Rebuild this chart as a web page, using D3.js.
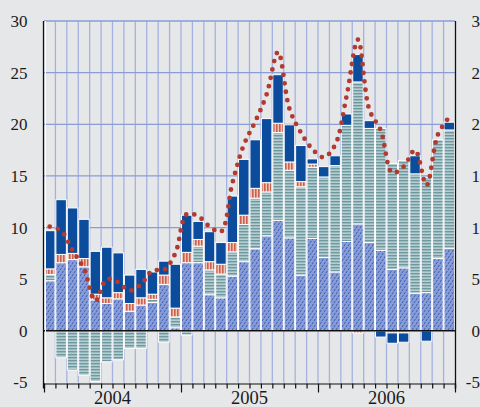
<!DOCTYPE html>
<html>
<head>
<meta charset="utf-8">
<script src="https://cdn.jsdelivr.net/npm/d3@7"></script>
<style>
  body { margin: 0; background: #e6e7e9; }
  svg { display: block; }
</style>
</head>
<body>
<div id="chart"></div>
<script>
// monthly, Jan 2004 .. Dec 2006
const months = d3.range(36);
const years = ['2004', '2005', '2006'];
const yTicks = [-5, 0, 5, 10, 15, 20, 25, 30];

// stacked components (bottom to top)
const hatched = [4.85, 6.6, 6.9, 6.2, 3.0, 2.65, 3.1, 1.9, 2.5, 2.75, 4.5, 0.3,
  6.6, 6.6, 3.5, 3.2, 5.3, 6.7, 7.95, 9.2, 10.7, 9.0, 5.4, 8.95,
  7.1, 5.7, 8.65, 10.35, 8.55, 7.8, 5.95, 6.1, 3.65, 3.7, 7.0, 8.0];
const striped = [0.6, -2.6, -3.8, -4.3, -4.9, -3.0, -2.8, -1.7, -1.7, 0.3, -1.1, 1.05,
  -0.4, 1.6, 2.4, 2.3, 2.35, 3.6, 4.9, 4.25, 8.5, 6.55, 8.55, 6.9,
  7.8, 10.3, 11.25, 13.75, 11.05, 11.8, 10.25, 10.4, 11.55, 11.15, 11.5, 11.45];
const red = [0.55, 0.8, 0.6, 0.8, 0.55, 0.55, 0.6, 0.75, 0.7, 0.5, 0.9, 0.85,
  1.0, 0.65, 0.8, 0.95, 0.9, 0.9, 0.95, 0.9, 0.9, 0.8, 0.5, 0.3,
  0, 0, 0, -0.2, 0, 0, -0.2, -0.2, 0, 0, 0, 0];
const navy = [3.7, 5.3, 4.4, 3.8, 4.15, 4.9, 3.85, 2.75, 2.75, 2.15, 1.35, 4.25,
  3.6, 1.75, 2.9, 2.1, 4.5, 5.4, 4.7, 6.2, 4.7, 3.6, 3.5, 0.5,
  1.0, 0.95, 1.1, 2.65, 0.75, -0.6, -1.0, -0.9, 1.75, -1.0, 0, 0.75];
// dotted line
const dotted = [10.1, 9.7, 7.8, 6.0, 2.9, 5.0, 4.7, 3.9, 4.5, 5.85, 5.9, 7.5,
  11.3, 11.1, 10.1, 9.6, 14.3, 18.0, 20.25, 22.9, 27.0, 21.5, 19.2, 17.6,
  16.8, 18.0, 22.7, 28.2, 21.4, 19.4, 15.3, 15.9, 17.5, 14.1, 19.0, 20.7];

const keys = ['hatched', 'striped', 'red', 'navy'];
const fills = {hatched: 'url(#p-hatch)', striped: 'url(#p-stripe)', red: 'url(#p-red)', navy: '#0b4c9c'};
const table = months.map(i => ({
  month: i, hatched: hatched[i], striped: striped[i], red: red[i], navy: navy[i]
}));

const width = 480, height = 407;
const left = 44, right = 455;

const svg = d3.select('#chart').append('svg')
    .attr('width', width)
    .attr('height', height);

svg.append('rect')
    .attr('width', width).attr('height', height)
    .attr('fill', '#e6e7e9');

const x = d3.scaleBand()
    .domain(months)
    .range([left, right])
    .paddingInner(0.08)
    .paddingOuter(0.04);
const xm = d3.scaleLinear().domain([0, 36]).range([left, right]);
const y = d3.scaleLinear().domain([-5, 30]).range([382.5, 21]);

// patterns
const defs = svg.append('defs');
const pH = defs.append('pattern').attr('id', 'p-hatch')
    .attr('patternUnits', 'userSpaceOnUse').attr('width', 4).attr('height', 6);
pH.append('rect').attr('width', 4).attr('height', 6).attr('fill', '#8b9dd4');
pH.append('path')
    .attr('d', 'M0,6L4,0M-1,1.5L1,-1.5M3,7.5L5,4.5')
    .attr('stroke', '#2a56b3').attr('stroke-width', 0.9)
    .attr('stroke-dasharray', '2.6 1');

const pS = defs.append('pattern').attr('id', 'p-stripe')
    .attr('patternUnits', 'userSpaceOnUse').attr('width', 4).attr('height', 3);
pS.append('rect').attr('width', 4).attr('height', 3).attr('fill', '#b6cdd1');
pS.append('rect').attr('width', 4).attr('height', 1.4).attr('fill', '#6e999f');

const pR = defs.append('pattern').attr('id', 'p-red')
    .attr('patternUnits', 'userSpaceOnUse').attr('width', 3).attr('height', 4);
pR.append('rect').attr('width', 3).attr('height', 4).attr('fill', '#f1c6b6');
pR.append('rect').attr('width', 1.6).attr('height', 4).attr('fill', '#cc5f4e');

// grid
svg.append('g')
    .selectAll('line')
    .data(d3.range(1, 36))
    .join('line')
    .attr('x1', d => xm(d)).attr('x2', d => xm(d))
    .attr('y1', y(30)).attr('y2', y(-5))
    .attr('stroke', '#a5b2e0')
    .attr('stroke-width', 1.3);

svg.append('g')
    .selectAll('line')
    .data([5, 10, 15, 20, 25, 30])
    .join('line')
    .attr('x1', left).attr('x2', right)
    .attr('y1', d => y(d)).attr('y2', d => y(d))
    .attr('stroke', '#8c9dd6')
    .attr('stroke-width', 1.3);

// bars
const series = d3.stack().keys(keys).offset(d3.stackOffsetDiverging)(table);

svg.append('g')
    .selectAll('g')
    .data(series)
    .join('g')
    .attr('fill', d => fills[d.key])
    .selectAll('rect')
    .data(d => d.filter(s => s[1] !== s[0]))
    .join('rect')
    .attr('x', d => x(d.data.month))
    .attr('width', x.bandwidth())
    .attr('y', d => y(Math.max(d[0], d[1])))
    .attr('height', d => Math.abs(y(d[0]) - y(d[1])))
    .attr('stroke', '#ffffff')
    .attr('stroke-width', 1);

// dotted line
const line = d3.line()
    .x((d, i) => x(i) + x.bandwidth() / 2)
    .y(d => y(d))
    .curve(d3.curveCatmullRom);

svg.append('path')
    .datum(dotted)
    .attr('fill', 'none')
    .attr('stroke', '#b23a2f')
    .attr('stroke-width', 4.8)
    .attr('stroke-linecap', 'round')
    .attr('stroke-dasharray', '0 8.5')
    .attr('d', line);

// axes frame
svg.append('line')
    .attr('x1', left).attr('x2', right)
    .attr('y1', y(0)).attr('y2', y(0))
    .attr('stroke', '#111').attr('stroke-width', 1.5);
svg.append('line')
    .attr('x1', left + 1.5).attr('x2', left + 1.5)
    .attr('y1', y(30)).attr('y2', y(-5))
    .attr('stroke', '#fff').attr('stroke-width', 1);
svg.append('line')
    .attr('x1', left - 0.5).attr('x2', left - 0.5)
    .attr('y1', y(30)).attr('y2', y(-5) + 6)
    .attr('stroke', '#111').attr('stroke-width', 1.3);
svg.append('line')
    .attr('x1', right + 0.5).attr('x2', right + 0.5)
    .attr('y1', y(30)).attr('y2', y(-5) + 6)
    .attr('stroke', '#111').attr('stroke-width', 1.3);

const font = "'Liberation Serif', 'Times New Roman', serif";

const xAxis = svg.append('g')
    .attr('transform', 'translate(0,' + (y(-5) + 1) + ')')
    .call(d3.axisBottom(xm).tickValues(d3.range(37)).tickSize(5).tickFormat(''));
xAxis.select('.domain').attr('stroke', '#111').attr('stroke-width', 1.2);
xAxis.selectAll('.tick line')
    .attr('stroke', '#111').attr('stroke-width', 1.2)
    .attr('y2', d => d % 12 === 0 ? 9 : 5);

svg.append('g')
    .selectAll('text')
    .data(years)
    .join('text')
    .attr('x', (d, i) => xm(i * 12 + 6))
    .attr('y', 404)
    .attr('text-anchor', 'middle')
    .attr('font-family', font)
    .attr('font-size', 18.5)
    .attr('fill', '#1a1a1a')
    .text(d => d);

const yLeft = svg.append('g')
    .attr('transform', 'translate(' + left + ',0)')
    .call(d3.axisLeft(y).tickValues(yTicks).tickSize(0).tickPadding(16.5));
yLeft.select('.domain').remove();
yLeft.selectAll('text')
    .attr('font-family', font).attr('font-size', 17).attr('fill', '#1a1a1a');

const yRight = svg.append('g')
    .attr('transform', 'translate(' + right + ',0)')
    .call(d3.axisRight(y).tickValues(yTicks).tickSize(0).tickPadding(16.5));
yRight.select('.domain').remove();
yRight.selectAll('text')
    .attr('font-family', font).attr('font-size', 17).attr('fill', '#1a1a1a')
    .attr('dx', d => d < 0 ? -5.7 : 0)
    .text(d => d < 0 ? '-' + Math.abs(d) : d);
yLeft.selectAll('text').text(d => d < 0 ? '-' + Math.abs(d) : d);
</script>
</body>
</html>
